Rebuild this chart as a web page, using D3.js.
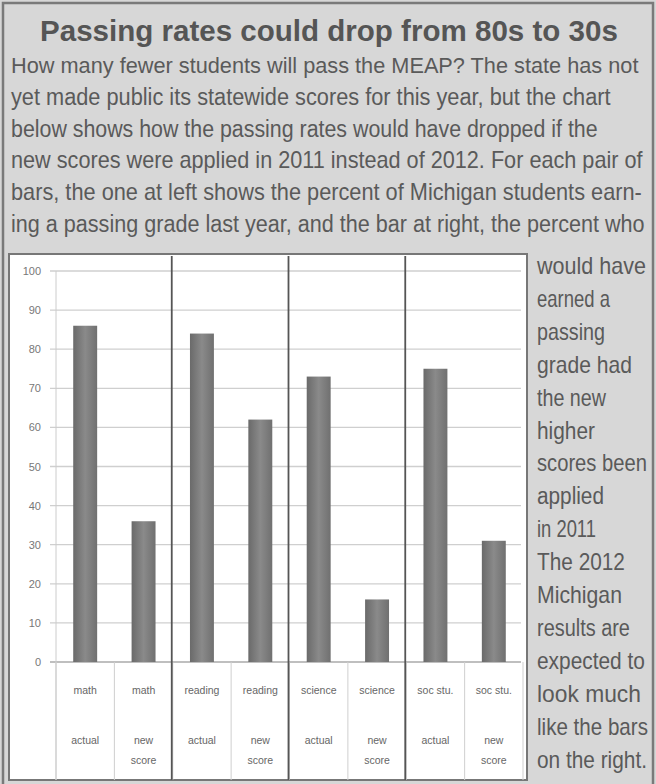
<!DOCTYPE html>
<html><head><meta charset="utf-8">
<script src="https://cdn.jsdelivr.net/npm/d3@7"></script>
<style>body{margin:0;background:#d7d7d7}svg{display:block}</style>
</head><body>
<svg id="c" width="656" height="784"></svg>
<script>
const subjects = ["math","math","reading","reading","science","science","soc stu.","soc stu."];
const scoreTypes = ["actual","new score","actual","new score","actual","new score","actual","new score"];
const values = [86, 36, 84, 62, 73, 16, 75, 31];
const yTicks = [0,10,20,30,40,50,60,70,80,90,100];
const title = "Passing rates could drop from 80s to 30s";
const introLines = [
  "How many fewer students will pass the MEAP? The state has not",
  "yet made public its statewide scores for this year, but the chart",
  "below shows how the passing rates would have dropped if the",
  "new scores were applied in 2011 instead of 2012.  For each pair of",
  "bars, the one at left shows the percent of Michigan students earn-",
  "ing a passing grade last year, and the bar at right, the percent who"
];
const introWidths = [628, 600, 587, 632, 631, 634];
const sideLines = ["would have","earned a","passing","grade had","the new","higher","scores been","applied","in 2011","The 2012","Michigan","results are","expected to","look much","like the bars","on the right."];
const sideWidths = [109, 73, 68, 95, 69, 58, 110, 67, 59, 88, 85, 93, 108, 104, 111, 110];

const svg = d3.select("#c");
const txt = "#5a5a5a";
const font = "Liberation Sans, Arial, sans-serif";

// outer frame
svg.append("rect").attr("x",0).attr("y",0).attr("width",656).attr("height",784).attr("fill","#d7d7d7");
svg.append("rect").attr("x",3).attr("y",3).attr("width",650).attr("height",790).attr("fill","none").attr("stroke","#7a7a7a").attr("stroke-width",2.5);

// helper: draw condensed text fitted to a target width
function fitted(parent, str, x, y, w, size, weight, color){
  const g = parent.append("g");
  const t = g.append("text").attr("x",0).attr("y",0).attr("font-family",font)
    .attr("font-size",size).attr("font-weight",weight||"normal").attr("fill",color).text(str);
  const len = t.node().getComputedTextLength();
  g.attr("transform",`translate(${x},${y}) scale(${w/len},1)`);
}

// title
fitted(svg, title, 40, 41, 578, 29, "bold", "#555");

// intro text
const gi = svg.append("g");
introLines.forEach((s,i)=>fitted(gi, s, 11, 73+i*31.8, introWidths[i], 23, "normal", txt));

// side text
const gs = svg.append("g");
sideLines.forEach((s,i)=>fitted(gs, s, 537, 274+i*32.9, sideWidths[i], 23, "normal", txt));

// chart panel
svg.append("rect").attr("x",9).attr("y",254).attr("width",518).attr("height",526)
  .attr("fill","#fff").attr("stroke","#777").attr("stroke-width",2);

const x = d3.scaleBand().domain(d3.range(values.length)).range([56,523]).paddingInner(0.59).paddingOuter(0.295);
const xb = d3.scaleBand().domain(d3.range(values.length)).range([56,523]);
const y = d3.scaleLinear().domain([0,100]).range([662,271]);

// gradient
const defs = svg.append("defs");
const g = defs.append("linearGradient").attr("id","bg").attr("x1","0").attr("x2","1").attr("y1","0").attr("y2","0");
g.append("stop").attr("offset","0").attr("stop-color","#6a6a6a");
g.append("stop").attr("offset","0.5").attr("stop-color","#8a8a8a");
g.append("stop").attr("offset","1").attr("stop-color","#707070");

// grid
svg.append("g").selectAll("line").data(yTicks).join("line")
  .attr("x1",50).attr("x2",521).attr("y1",d=>y(d)).attr("y2",d=>y(d))
  .attr("stroke",d=>d===0?"#aaa":"#cfcfcf").attr("stroke-width",1.3);
// y axis line
svg.append("line").attr("x1",56).attr("x2",56).attr("y1",271).attr("y2",780).attr("stroke","#ccc");

// y labels
svg.append("g").selectAll("text").data(yTicks).join("text")
  .attr("x",41).attr("y",d=>y(d)+4).attr("text-anchor","end")
  .attr("font-family",font).attr("font-size",11).attr("fill","#777").text(d=>d);

// category separators in label area
svg.append("g").selectAll("line").data(d3.range(values.length+1)).join("line")
  .attr("x1",d=>d<values.length?xb(d):xb.range()[1]).attr("x2",d=>d<values.length?xb(d):xb.range()[1])
  .attr("y1",662).attr("y2",780).attr("stroke","#cfcfcf");

// bars
svg.append("g").selectAll("rect").data(values).join("rect")
  .attr("x",(d,i)=>x(i)).attr("width",x.bandwidth())
  .attr("y",d=>y(d)).attr("height",d=>y(0)-y(d)).attr("fill","url(#bg)");

// group separators
svg.append("g").selectAll("line").data([2,4,6]).join("line")
  .attr("x1",d=>xb(d)-1).attr("x2",d=>xb(d)-1).attr("y1",256).attr("y2",780)
  .attr("stroke","#555").attr("stroke-width",1.8);

// category labels
const lab = svg.append("g").attr("font-family",font).attr("font-size",10.5).attr("fill","#666").attr("text-anchor","middle");
lab.selectAll("text.s").data(subjects).join("text").attr("class","s")
  .attr("x",(d,i)=>xb(i)+xb.bandwidth()/2).attr("y",694).text(d=>d);
scoreTypes.forEach((t,i)=>{
  t.split(" ").forEach((w,j)=>{
    lab.append("text").attr("x",xb(i)+xb.bandwidth()/2).attr("y",744+j*20).text(w);
  });
});
</script>
</body></html>
